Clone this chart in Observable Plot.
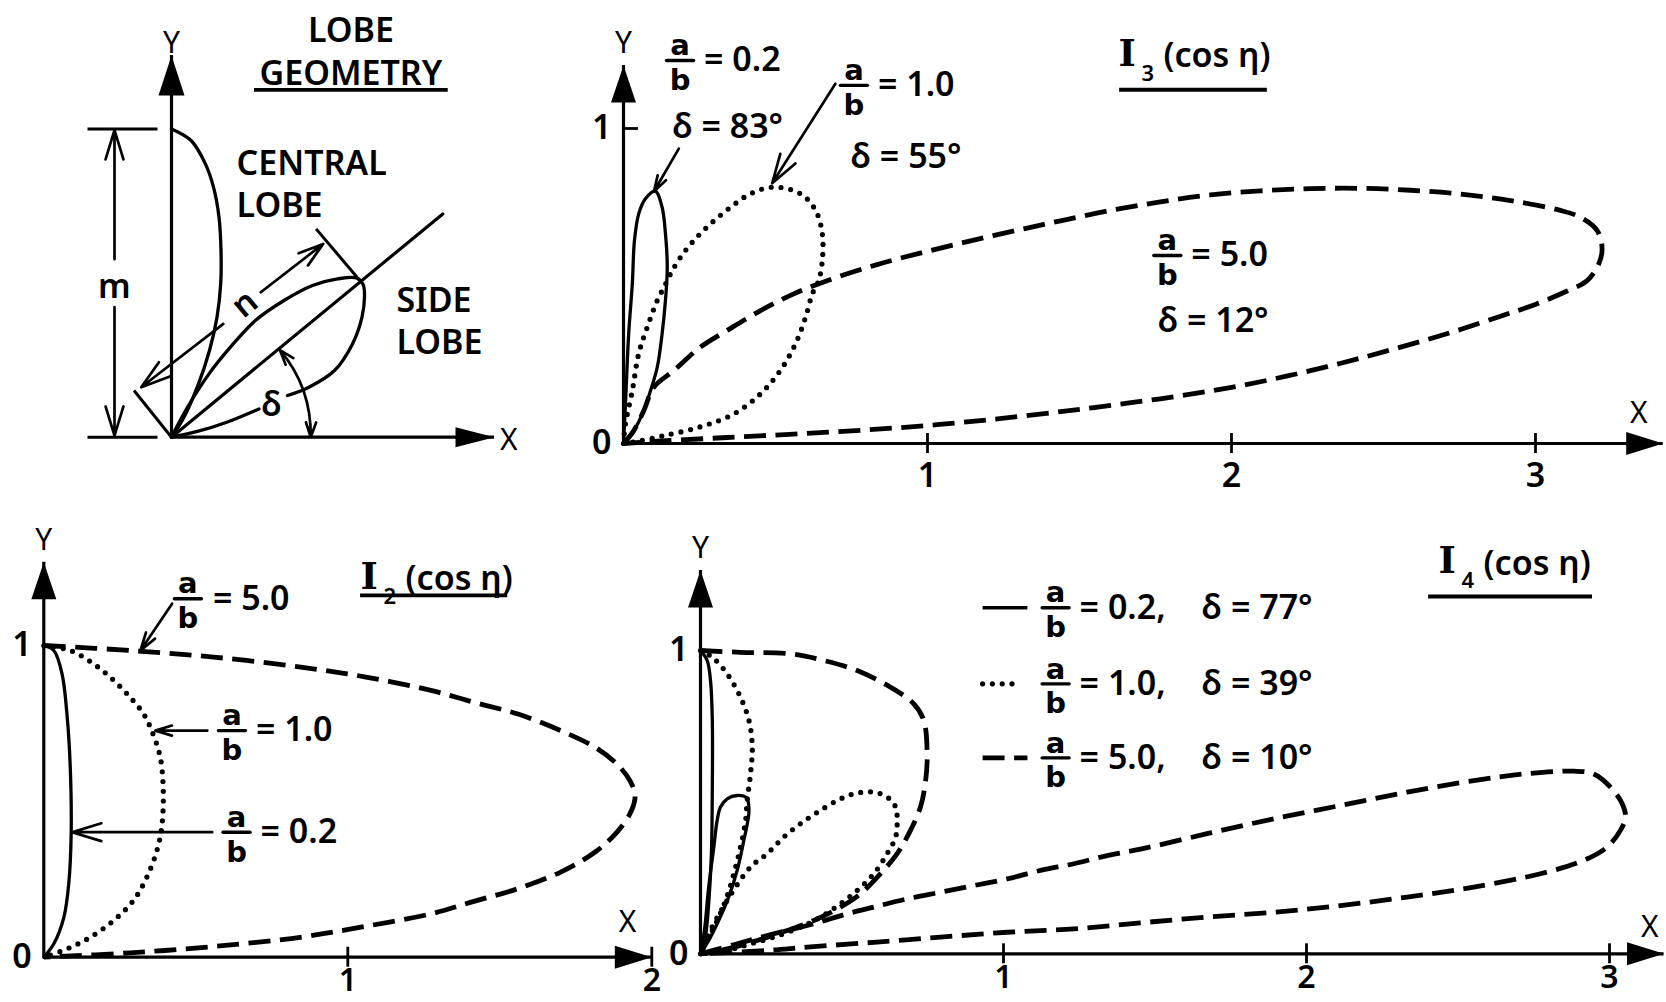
<!DOCTYPE html>
<html>
<head>
<meta charset="utf-8">
<script src="https://cdn.jsdelivr.net/npm/d3@7"></script>
<script src="https://cdn.jsdelivr.net/npm/@observablehq/plot@0.6"></script>
<style>
  html, body { margin: 0; padding: 0; background: #fff; }
  #figure { position: relative; width: 1666px; height: 1002px; overflow: hidden; background: #fff; }
  #figure svg { position: absolute; left: 0; top: 0; }
</style>
</head>
<body>
<div id="figure"></div>
<script>
// ---------------- values ----------------
const ratios = ["0.2", "1.0", "5.0"];   // a/b : solid, dotted, dashed
const i3Delta = [83, 55, 12];          // side-lobe angle δ for I3
const i4Delta = [77, 39, 10];          // side-lobe angle δ for I4
const xTicksI3 = [1, 2, 3];
const xTicksI2 = [1, 2];
const xTicksI4 = [1, 2, 3];
const yTicks = [1];

// I3(cos η) lobes, [X, Y]
const i3Solid = [[0,0],[0.007,0.137],[0.017,0.348],[0.029,0.507],[0.036,0.644],[0.050,0.729],[0.072,0.777],[0.105,0.801],[0.127,0.750],[0.138,0.666],[0.144,0.560],[0.138,0.454],[0.127,0.348],[0.111,0.242],[0.089,0.168],[0.067,0.105],[0.034,0.041],[0,0]];
const i3Dotted = [[0,0],[0.006,0.06],[0.029,0.168],[0.050,0.285],[0.078,0.369],[0.111,0.454],[0.133,0.496],[0.155,0.539],[0.188,0.592],[0.231,0.644],[0.286,0.697],[0.352,0.750],[0.418,0.793],[0.494,0.814],[0.582,0.793],[0.632,0.740],[0.654,0.666],[0.654,0.581],[0.642,0.517],[0.621,0.475],[0.599,0.401],[0.566,0.317],[0.516,0.232],[0.451,0.158],[0.363,0.094],[0.253,0.053],[0.133,0.025],[0.045,0.007],[0,0]];
const i3Dashed = [[0,0],[0.034,0.041],[0.067,0.105],[0.100,0.179],[0.166,0.232],[0.253,0.306],[0.341,0.359],[0.451,0.422],[0.560,0.475],[0.670,0.517],[0.834,0.568],[0.999,0.610],[1.163,0.648],[1.328,0.684],[1.438,0.707],[1.602,0.740],[1.766,0.767],[1.931,0.789],[2.095,0.802],[2.260,0.809],[2.424,0.810],[2.589,0.804],[2.753,0.792],[2.918,0.771],[3.082,0.740],[3.148,0.718],[3.203,0.676],[3.219,0.618],[3.208,0.570],[3.170,0.517],[3.104,0.484],[2.995,0.440],[2.885,0.404],[2.753,0.362],[2.644,0.330],[2.534,0.300],[2.424,0.271],[2.315,0.244],[2.205,0.219],[2.095,0.196],[1.986,0.176],[1.876,0.158],[1.766,0.142],[1.657,0.128],[1.547,0.114],[1.438,0.101],[1.218,0.077],[0.999,0.057],[0.780,0.042],[0.560,0.030],[0.341,0.019],[0.122,0.008],[0,0]];

// I2(cos η) lobes
const i2Solid = [[0,1],[0.033,0.984],[0.060,0.909],[0.077,0.770],[0.087,0.610],[0.090,0.396],[0.082,0.235],[0.066,0.128],[0.033,0.043],[0,0]];
const i2Dotted = [[0,1],[0.087,0.984],[0.164,0.941],[0.230,0.888],[0.284,0.834],[0.328,0.781],[0.355,0.727],[0.383,0.642],[0.393,0.535],[0.388,0.417],[0.372,0.342],[0.339,0.257],[0.295,0.182],[0.230,0.118],[0.153,0.064],[0.077,0.027],[0,0]];
const i2Dashed = [[0,1],[0.284,0.984],[0.567,0.962],[0.851,0.930],[1.064,0.898],[1.277,0.855],[1.418,0.817],[1.560,0.780],[1.702,0.726],[1.816,0.672],[1.887,0.618],[1.929,0.565],[1.945,0.518],[1.932,0.468],[1.887,0.403],[1.816,0.339],[1.702,0.274],[1.560,0.220],[1.418,0.180],[1.277,0.140],[1.064,0.100],[0.851,0.065],[0.567,0.035],[0.284,0.014],[0,0]];

// I4(cos η) lobes: central lobe and side lobe of each case
const i4SolidCentral = [[0,1],[0.022,0.967],[0.033,0.901],[0.039,0.769],[0.039,0.549],[0.036,0.330],[0.027,0.165],[0.016,0.055],[0,0]];
const i4SolidSide = [[0,0],[0.013,0.077],[0.027,0.220],[0.044,0.352],[0.055,0.440],[0.066,0.484],[0.088,0.511],[0.121,0.522],[0.152,0.514],[0.160,0.472],[0.143,0.374],[0.121,0.275],[0.093,0.187],[0.060,0.110],[0.027,0.044],[0,0]];
const i4DottedCentral = [[0,1],[0.039,0.978],[0.088,0.923],[0.132,0.846],[0.160,0.769],[0.171,0.681],[0.165,0.593],[0.154,0.505],[0.149,0.440],[0.132,0.352],[0.110,0.264],[0.083,0.176],[0.050,0.099],[0.016,0.033],[0,0]];
const i4DottedSide = [[0,0],[0.022,0.055],[0.088,0.176],[0.165,0.286],[0.220,0.330],[0.275,0.385],[0.330,0.429],[0.396,0.473],[0.462,0.511],[0.517,0.530],[0.572,0.533],[0.616,0.517],[0.644,0.484],[0.649,0.440],[0.644,0.385],[0.616,0.330],[0.572,0.264],[0.517,0.209],[0.462,0.165],[0.396,0.121],[0.330,0.088],[0.242,0.055],[0.165,0.033],[0.088,0.011],[0,0]];
const i4DashedCentral = [[0,1],[0.132,0.994],[0.297,0.989],[0.407,0.967],[0.517,0.934],[0.627,0.879],[0.704,0.824],[0.737,0.769],[0.748,0.659],[0.743,0.571],[0.726,0.484],[0.693,0.407],[0.649,0.330],[0.594,0.264],[0.528,0.198],[0.462,0.154],[0.374,0.110],[0.286,0.077],[0.187,0.044],[0.088,0.016],[0,0]];
const i4DashedSide = [[0,0],[0.110,0.030],[0.242,0.066],[0.374,0.099],[0.484,0.132],[0.572,0.154],[0.682,0.181],[0.792,0.203],[0.902,0.225],[1.012,0.247],[1.122,0.275],[1.232,0.297],[1.342,0.324],[1.452,0.345],[1.672,0.396],[1.892,0.445],[2.112,0.489],[2.332,0.533],[2.552,0.571],[2.717,0.593],[2.882,0.602],[2.948,0.593],[3.003,0.550],[3.042,0.495],[3.053,0.451],[3.036,0.407],[2.992,0.352],[2.915,0.308],[2.772,0.264],[2.552,0.220],[2.332,0.187],[2.112,0.159],[1.892,0.137],[1.672,0.121],[1.452,0.102],[1.232,0.082],[1.012,0.071],[0.792,0.055],[0.572,0.038],[0.352,0.022],[0.220,0.011],[0,0]];

// Lobe-geometry sketch (units of 100 px)
const geoCentralLobe = [[0,3.083],[0.196,2.967],[0.339,2.733],[0.42,2.5],[0.475,2.2],[0.495,1.867],[0.492,1.533],[0.455,1.2],[0.38,0.867],[0.27,0.533],[0.125,0.2],[0,0]];
const geoSideLobe = [[0,0],[0.161,0.3],[0.375,0.633],[0.589,0.9],[0.839,1.167],[1.125,1.367],[1.41,1.517],[1.66,1.583],[1.85,1.593],[1.915,1.53],[1.93,1.433],[1.905,1.2],[1.81,0.933],[1.63,0.667],[1.374,0.5],[1.16,0.417]];
const geoSideLobeTail = [[0.875,0.283],[0.553,0.15],[0.268,0.06],[0,0]];
const geoSideAxis = [[0,0],[2.713,2.233]];
const geoExtension = [
  {x1: -0.84, y1: 0, x2: -0.14, y2: 0},
  {x1: -0.84, y1: 3.083, x2: -0.14, y2: 3.083},
  {x1: 1.446, y1: 2.083, x2: 1.856, y2: 1.6},
  {x1: -0.375, y1: 0.467, x2: 0, y2: 0}
];
const geoDimension = [
  {x1: -0.57, y1: 1.78, x2: -0.57, y2: 3.07},
  {x1: -0.57, y1: 1.3, x2: -0.57, y2: 0.015},
  {x1: 0.518, y1: 1.133, x2: -0.303, y2: 0.5},
  {x1: 0.893, y1: 1.45, x2: 1.517, y2: 1.933}
];
const geoArcMid = {x: 1.32, y: 0.467};
const geoArcEnds = [{x: 1.392, y: 0.0}, {x: 1.085, y: 0.87}];

// ---------------- layout ----------------
const W = 1666, H = 1002;
const FONT = "'Noto Sans', 'DejaVu Sans', sans-serif";
const TXT = {fontFamily: FONT, fontSize: 34, fontWeight: 600, fill: "#000"};
const AXT = {fontFamily: FONT, fontSize: 30, fontWeight: 400, fill: "#000"};
const FRAC = {fontFamily: "'DejaVu Sans', sans-serif", fontSize: 29, fontWeight: 700, fill: "#000", lineHeight: 1.2};

// pixel origin and size of one unit for each panel
const panels = {
  geo: {x0: 171, y0: 436.7, ux: 100, uy: 100},
  i3: {x0: 623, y0: 443, ux: 304, uy: 315},
  i2: {x0: 43.3, y0: 956.7, ux: 304, uy: 311.7},
  i4: {x0: 700, y0: 953.3, ux: 303, uy: 303.3}
};

const lineStyles = {
  solid: {strokeWidth: 3.3, strokeLinejoin: "round"},
  dotted: {strokeWidth: 5.2, strokeDasharray: "0 9.8", strokeLinecap: "round"},
  dashed: {strokeWidth: 4.8, strokeDasharray: "22 9.5", strokeLinecap: "butt"}
};
const styleOf = ["solid", "dotted", "dashed"];

const BAR = {draw(context, l) { context.moveTo(0, 0); context.lineTo(0, -l); }};

function lobe(points, style) {
  return Plot.line(points, {x: d => d[0], y: d => d[1], curve: "catmull-rom", stroke: "#000", fill: "none", ...lineStyles[style]});
}

function label(x, y, text, opts = {}) {
  return Plot.text([{x, y}], {x: "x", y: "y", text: () => text, ...TXT, ...opts});
}

function head(x, y, rotate, length, r) {
  return Plot.vector([{x, y}], {x: "x", y: "y", length, r, rotate, anchor: "end", shape: "spike", fill: "#000", stroke: "none"});
}

function axes(p, o) {
  const marks = [
    Plot.ruleY([0], {x1: 0, x2: o.xEnd, stroke: "#000", strokeWidth: 3.2}),
    Plot.ruleX([0], {y1: 0, y2: o.yEnd, stroke: "#000", strokeWidth: 3.2}),
    head(o.xEnd, 0, 90, o.headX ?? 37, o.rx ?? 11.5),
    head(0, o.yEnd, 0, o.headY ?? 37, o.ry ?? 12.5),
    label(o.yLabel[0], o.yLabel[1], "Y", AXT),
    label(o.xLabel[0], o.xLabel[1], "X", AXT)
  ];
  if (o.xTicks) {
    marks.push(
      Plot.ruleX(o.xTicks, {x: d => d, y1: -10 / p.uy, y2: 10 / p.uy, stroke: "#000", strokeWidth: 2.8}),
      Plot.text(o.xTicks, {x: d => d, y: 0, dy: o.tickDy ?? 33, text: d => String(d), ...TXT, fontSize: o.tickSize ?? 34}),
      Plot.ruleY(yTicks, {y: d => d, x1: 0, x2: 15 / p.ux, stroke: "#000", strokeWidth: 2.8}),
      Plot.text(yTicks, {x: 0, y: d => d, dx: -12, textAnchor: "end", text: d => String(d), ...TXT}),
      Plot.text([0], {x: 0, y: 0, dx: -12, textAnchor: "end", text: d => String(d), ...TXT})
    );
  }
  return marks;
}

// a/b fraction (one two-line text split by a bar) followed by the rest of the label
function fraction(x, y, rest, restDx = 24) {
  const d = [{x, y}];
  return [
    Plot.text(d, {x: "x", y: "y", text: () => "a\nb", dy: 1, ...FRAC}),
    Plot.vector(d, {x: "x", y: "y", length: 27, rotate: 90, anchor: "middle", shape: BAR, stroke: "#000", strokeWidth: 3.4}),
    Plot.text(d, {x: "x", y: "y", text: () => rest, dx: restDx, textAnchor: "start", ...TXT})
  ];
}

function title(x, y, sub, underline) {
  return [
    label(x, y, "I", {fontFamily: "'DejaVu Serif', serif", fontWeight: 700, fontSize: 37, textAnchor: "start"}),
    label(x, y, sub, {fontSize: 22, dx: 23, dy: 19, textAnchor: "start", fontWeight: 600}),
    label(x, y, "(cos η)", {dx: 45, dy: 2, textAnchor: "start", fontWeight: 600}),
    Plot.ruleY([underline], {y: "y", x1: "x1", x2: "x2", stroke: "#000", strokeWidth: 3.8})
  ];
}

function leaders(rows) {
  return Plot.arrow(rows, {x1: "x1", y1: "y1", x2: "x2", y2: "y2", stroke: "#000", strokeWidth: 2.7, headLength: 17, headAngle: 34});
}

function draw(p, marks) {
  const svg = Plot.plot({
    width: W, height: H,
    marginTop: 0, marginRight: 0, marginBottom: 0, marginLeft: 0,
    x: {type: "linear", domain: [0, 1], range: [p.x0, p.x0 + p.ux], axis: null},
    y: {type: "linear", domain: [0, 1], range: [p.y0, p.y0 - p.uy], axis: null},
    style: {background: "transparent", overflow: "visible"},
    marks: marks.flat(Infinity)
  });
  document.getElementById("figure").append(svg);
}

// ---------------- lobe geometry ----------------
draw(panels.geo, [
  axes(panels.geo, {xEnd: 3.23, yEnd: 3.817, xLabel: [3.374, -0.033], yLabel: [0, 3.934], headX: 39, rx: 10, headY: 40, ry: 13}),
  Plot.link(geoExtension, {x1: "x1", y1: "y1", x2: "x2", y2: "y2", stroke: "#000", strokeWidth: 3}),
  leaders(geoDimension),
  Plot.line(geoSideAxis, {x: d => d[0], y: d => d[1], stroke: "#000", strokeWidth: 3.2}),
  lobe(geoCentralLobe, "solid"),
  lobe(geoSideLobe, "solid"),
  lobe(geoSideLobeTail, "solid"),
  Plot.arrow([{...geoArcMid, x2: geoArcEnds[0].x, y2: geoArcEnds[0].y}], {x1: "x", y1: "y", x2: "x2", y2: "y2", bend: 10, stroke: "#000", strokeWidth: 2.7, headLength: 15, headAngle: 38}),
  Plot.arrow([{...geoArcMid, x2: geoArcEnds[1].x, y2: geoArcEnds[1].y}], {x1: "x", y1: "y", x2: "x2", y2: "y2", bend: -10, stroke: "#000", strokeWidth: 2.7, headLength: 15, headAngle: 38}),
  label(1.794, 3.872, "LOBE\nGEOMETRY", {lineHeight: 1.247}),
  Plot.ruleY([{y: 3.474, x1: 0.83, x2: 2.767}], {y: "y", x1: "x1", x2: "x2", stroke: "#000", strokeWidth: 3.8}),
  label(0.65, 2.547, "CENTRAL\nLOBE", {textAnchor: "start", lineHeight: 1.235}),
  label(2.249, 1.1755, "SIDE\nLOBE", {textAnchor: "start", lineHeight: 1.235}),
  label(-0.571, 1.5, "m"),
  label(0.732, 1.333, "n", {rotate: -40}),
  label(1.0, 0.317, "δ")
]);

// ---------------- I3(cos η) ----------------
draw(panels.i3, [
  axes(panels.i3, {xEnd: 3.42, yEnd: 1.2, xTicks: xTicksI3, xLabel: [3.34, 0.095], yLabel: [0, 1.27]}),
  lobe(i3Dashed, "dashed"),
  lobe(i3Dotted, "dotted"),
  lobe(i3Solid, "solid"),
  fraction(0.186, 1.216, `= ${ratios[0]}`),
  label(0.160, 1.003, `δ = ${i3Delta[0]}°`, {textAnchor: "start"}),
  fraction(0.758, 1.137, `= ${ratios[1]}`),
  label(0.747, 0.908, `δ = ${i3Delta[1]}°`, {textAnchor: "start"}),
  fraction(1.789, 0.597, `= ${ratios[2]}`),
  label(1.757, 0.387, `δ = ${i3Delta[2]}°`, {textAnchor: "start"}),
  leaders([
    {x1: 0.182, y1: 0.936, x2: 0.100, y2: 0.800},
    {x1: 0.697, y1: 1.142, x2: 0.489, y2: 0.826}
  ]),
  title(1.628, 1.235, "3", {y: 1.123, x1: 1.632, x2: 2.118})
]);

// ---------------- I2(cos η) ----------------
draw(panels.i2, [
  axes(panels.i2, {xEnd: 2, yEnd: 1.267, xTicks: xTicksI2, tickDy: 24, tickSize: 32, xLabel: [1.92, 0.111], yLabel: [0, 1.337]}),
  lobe(i2Dashed, "dashed"),
  lobe(i2Dotted, "dotted"),
  lobe(i2Solid, "solid"),
  fraction(0.474, 1.150, `= ${ratios[2]}`, 25),
  fraction(0.619, 0.727, `= ${ratios[1]}`),
  fraction(0.634, 0.401, `= ${ratios[0]}`),
  leaders([
    {x1: 0.422, y1: 1.134, x2: 0.318, y2: 0.984},
    {x1: 0.538, y1: 0.727, x2: 0.367, y2: 0.727},
    {x1: 0.554, y1: 0.401, x2: 0.093, y2: 0.401}
  ]),
  title(1.042, 1.218, "2", {y: 1.161, x1: 1.042, x2: 1.526})
]);

// ---------------- I4(cos η) ----------------
const legendY = [1.141, 0.890, 0.646];
draw(panels.i4, [
  axes(panels.i4, {xEnd: 3.18, yEnd: 1.264, xTicks: xTicksI4, tickDy: 24, tickSize: 32, xLabel: [3.133, 0.088], yLabel: [0, 1.336]}),
  lobe(i4DashedSide, "dashed"),
  lobe(i4DashedCentral, "dashed"),
  lobe(i4DottedSide, "dotted"),
  lobe(i4DottedCentral, "dotted"),
  lobe(i4SolidSide, "solid"),
  lobe(i4SolidCentral, "solid"),
  ratios.map((r, i) => [
    Plot.link([{y: legendY[i]}], {x1: 0.931, x2: styleOf[i] === "dotted" ? 1.045 : 1.079, y1: "y", y2: "y", stroke: "#000", ...lineStyles[styleOf[i]]}),
    fraction(1.172, legendY[i], `= ${r},`),
    Plot.text([{y: legendY[i]}], {x: 1.172, y: "y", dx: 146, text: () => `δ = ${i4Delta[i]}°`, textAnchor: "start", ...TXT})
  ]),
  title(2.436, 1.293, "4", {y: 1.178, x1: 2.403, x2: 2.944})
]);
</script>
</body>
</html>
